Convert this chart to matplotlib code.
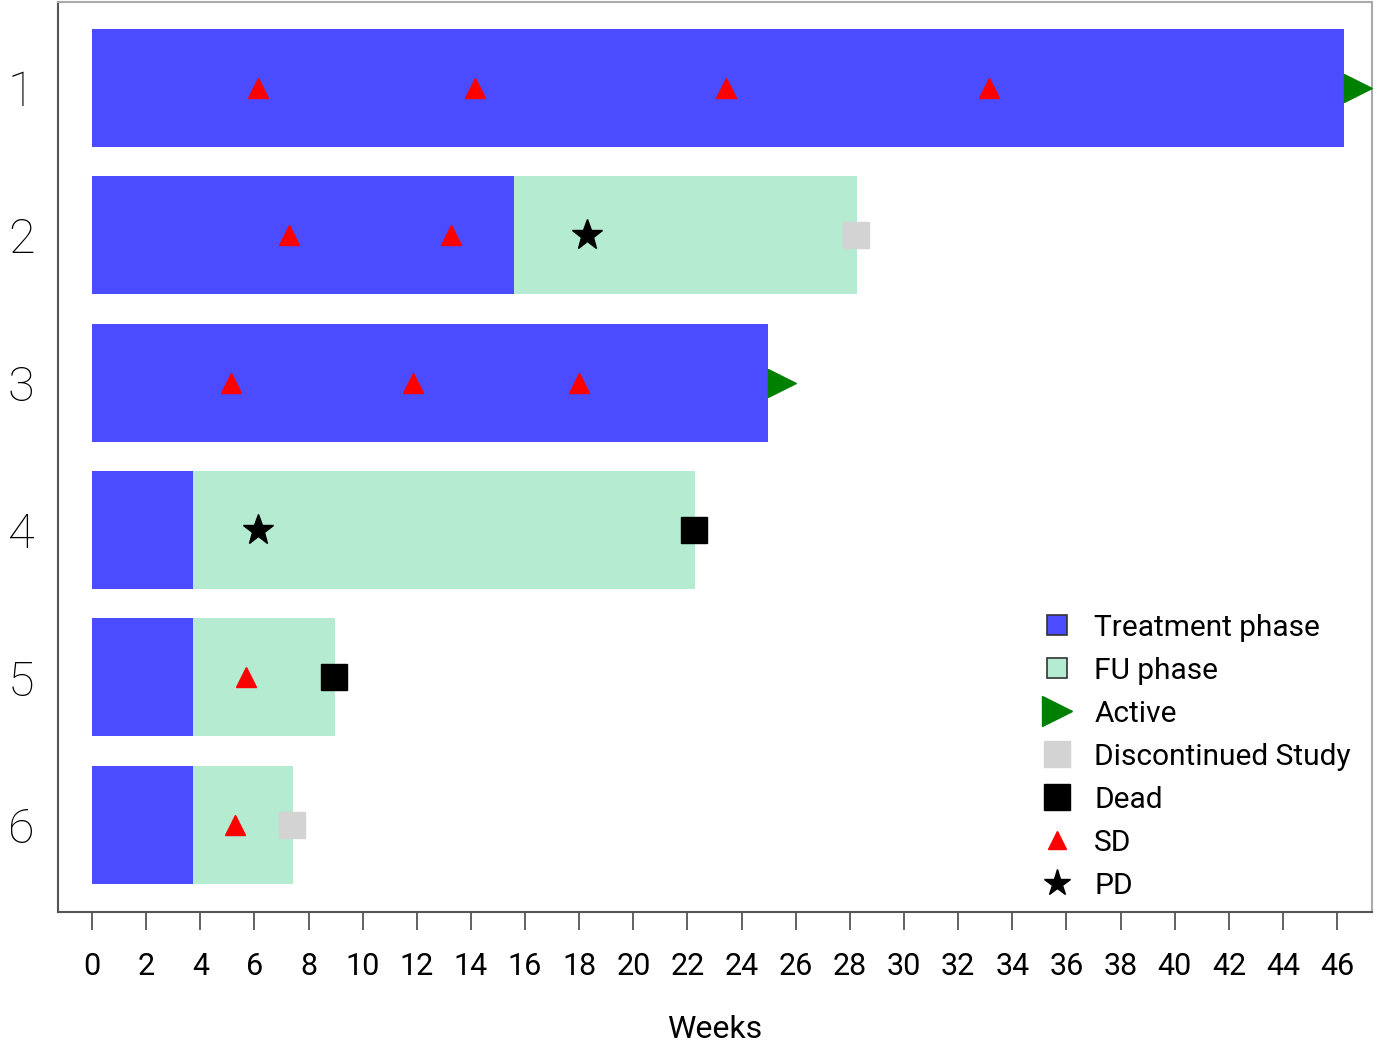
import matplotlib
matplotlib.use("Agg")
import matplotlib.pyplot as plt
from matplotlib.lines import Line2D
from matplotlib.path import Path

plt.rcParams['font.family'] = ['Roboto', 'DejaVu Sans']

# Subjects (rows) and phase durations in weeks
subjects = [1, 2, 3, 4, 5, 6]
treatment_end = [46.25, 15.59, 24.97, 3.73, 3.73, 3.73]
fu_end = [None, 28.26, None, 22.27, 8.98, 7.43]

# Event times (weeks)
sd_events = {1: [6.13, 14.15, 23.42, 33.14], 2: [7.28, 13.26],
             3: [5.13, 11.86, 17.99], 5: [5.69], 6: [5.28]}
pd_events = {2: [18.29], 4: [6.13]}
active_at = {1: 46.25, 3: 24.97}
discontinued_at = {2: 28.22, 6: 7.39}
dead_at = {4: 22.24, 5: 8.94}

x_ticks = list(range(0, 47, 2))

C_TRT = '#4B4BFF'
C_FU = '#B5EBD1'
C_ACTIVE = '#008000'
C_DISC = '#D3D3D3'
C_DEAD = '#000000'
C_SD = '#FF0000'
C_PD = '#000000'

fig = plt.figure(figsize=(13.74, 10.45), dpi=100)
ax = fig.add_axes([58 / 1374, 1 - 912 / 1045, (1372 - 58) / 1374, (912 - 2) / 1045])

bar_h = 0.8
for s, t_end, f_end in zip(subjects, treatment_end, fu_end):
    ax.barh(s, t_end, left=0, height=bar_h, color=C_TRT, edgecolor='none', zorder=2)
    if f_end is not None:
        ax.barh(s, f_end - t_end, left=t_end, height=bar_h, color=C_FU,
                edgecolor='none', zorder=2)

# Right-pointing arrowhead whose base sits on the given x position
arrow = Path([(0, -0.5), (1, 0), (0, 0.5), (0, -0.5)],
             [Path.MOVETO, Path.LINETO, Path.LINETO, Path.CLOSEPOLY])

for s, xs in sd_events.items():
    ax.plot(xs, [s] * len(xs), linestyle='none', marker='^', markersize=14,
            color=C_SD, zorder=4)
for s, xs in pd_events.items():
    ax.plot(xs, [s] * len(xs), linestyle='none', marker='*', markersize=23,
            color=C_PD, zorder=4)
for s, x in active_at.items():
    ax.plot([x], [s], linestyle='none', marker=arrow, markersize=40,
            color=C_ACTIVE, zorder=4, clip_on=False)
for s, x in discontinued_at.items():
    ax.plot([x], [s], linestyle='none', marker='s', markersize=19,
            color=C_DISC, zorder=4)
for s, x in dead_at.items():
    ax.plot([x], [s], linestyle='none', marker='s', markersize=19,
            color=C_DEAD, zorder=4)

ax.set_xlim(-1.256, 47.29)
ax.set_ylim(6.59, 0.42)
ax.set_xticks(x_ticks)
ax.set_xticklabels([str(t) for t in x_ticks], fontsize=22)
ax.set_yticks(subjects)
ax.set_yticklabels([str(s) for s in subjects], fontsize=35, fontweight='light')
ax.tick_params(axis='x', length=13, width=1.3, color='#555555', pad=16)
ax.tick_params(axis='y', length=0, pad=17)
ax.set_xlabel('Weeks', fontsize=23, labelpad=24)

for side in ['left', 'bottom']:
    ax.spines[side].set_color('#555555')
    ax.spines[side].set_linewidth(1.5)
for side in ['top', 'right']:
    ax.spines[side].set_color('#AAAAAA')
    ax.spines[side].set_linewidth(1.5)

handles = [
    Line2D([], [], linestyle='none', marker='s', markersize=14,
           markerfacecolor=C_TRT, markeredgecolor='#333333', markeredgewidth=1.2),
    Line2D([], [], linestyle='none', marker='s', markersize=14,
           markerfacecolor=C_FU, markeredgecolor='#333333', markeredgewidth=1.2),
    Line2D([], [], linestyle='none', marker='>', markersize=22, color=C_ACTIVE),
    Line2D([], [], linestyle='none', marker='s', markersize=19, color=C_DISC),
    Line2D([], [], linestyle='none', marker='s', markersize=19, color=C_DEAD),
    Line2D([], [], linestyle='none', marker='^', markersize=13, color=C_SD),
    Line2D([], [], linestyle='none', marker='*', markersize=20, color=C_PD),
]
labels = ['Treatment phase', 'FU phase', 'Active', 'Discontinued Study', 'Dead', 'SD', 'PD']
leg = ax.legend(handles, labels, loc='upper left', frameon=False, fontsize=21.5,
                bbox_to_anchor=(1027 / 1374, 1 - 599 / 1045),
                bbox_transform=fig.transFigure, handlelength=1.0,
                handletextpad=0.75, labelspacing=0.5, borderpad=0)

fig.savefig('out.png', dpi=100)
